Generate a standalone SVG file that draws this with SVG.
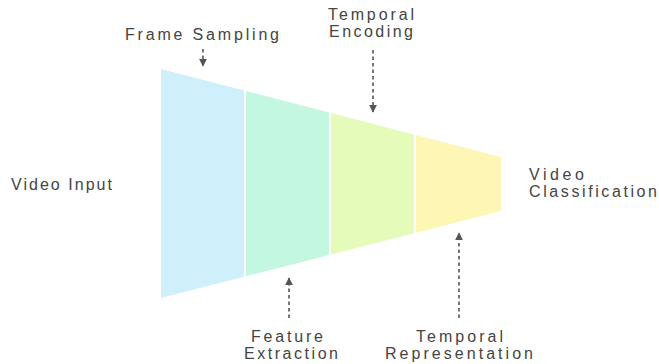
<svg xmlns="http://www.w3.org/2000/svg" width="659" height="364" viewBox="0 0 659 364">
  <defs>
    <marker id="ah" viewBox="0 0 10 10" refX="9" refY="5" markerWidth="8" markerHeight="8" markerUnits="userSpaceOnUse" orient="auto">
      <path d="M0,0 L10,5 L0,10 Z" fill="#555"/>
    </marker>
    <style>
      .lbl { font-family: "Liberation Sans", "DejaVu Sans", sans-serif; font-size: 16px; fill: #444; }
      .conn { stroke: #555; stroke-width: 1.6; stroke-dasharray: 3.5 3; fill: none; marker-end: url(#ah); }
    </style>
  </defs>
  <rect width="659" height="364" fill="#ffffff"/>

  <g id="stage-frames">
    <polygon points="161,69 244,90.5 244,276.8 161,298" fill="#cff0fa"/>
  </g>
  <g id="stage-features">
    <polygon points="246,91 329,112.5 329,255 246,276.3" fill="#c3f7df"/>
  </g>
  <g id="stage-temporal-encoding">
    <polygon points="331,113 414,134.5 414,233.3 331,254.5" fill="#e5fbba"/>
  </g>
  <g id="stage-representation">
    <polygon points="416,135 501,157 501,211 416,232.7" fill="#fef6b4"/>
  </g>

  <g id="connectors">
    <line class="conn" x1="203" y1="49" x2="203" y2="66"/>
    <line class="conn" x1="373" y1="50" x2="373" y2="112"/>
    <line class="conn" x1="289" y1="318" x2="289" y2="278"/>
    <line class="conn" x1="459" y1="318" x2="459" y2="233"/>
  </g>

  <g id="label-video-input">
    <text class="lbl" x="11" y="190" textLength="101" lengthAdjust="spacing">Video Input</text>
  </g>
  <g id="label-frame-sampling">
    <text class="lbl" x="125" y="40" textLength="154" lengthAdjust="spacing">Frame Sampling</text>
  </g>
  <g id="label-temporal-encoding">
    <text class="lbl" x="328" y="20" textLength="86" lengthAdjust="spacing">Temporal</text>
    <text class="lbl" x="329" y="37" textLength="84" lengthAdjust="spacing">Encoding</text>
  </g>
  <g id="label-video-classification">
    <text class="lbl" x="529" y="180" textLength="55" lengthAdjust="spacing">Video</text>
    <text class="lbl" x="529" y="197" textLength="128" lengthAdjust="spacing">Classification</text>
  </g>
  <g id="label-feature-extraction">
    <text class="lbl" x="251" y="342" textLength="72" lengthAdjust="spacing">Feature</text>
    <text class="lbl" x="244" y="359" textLength="94" lengthAdjust="spacing">Extraction</text>
  </g>
  <g id="label-temporal-representation">
    <text class="lbl" x="416" y="342" textLength="87" lengthAdjust="spacing">Temporal</text>
    <text class="lbl" x="385" y="359" textLength="148" lengthAdjust="spacing">Representation</text>
  </g>
</svg>
